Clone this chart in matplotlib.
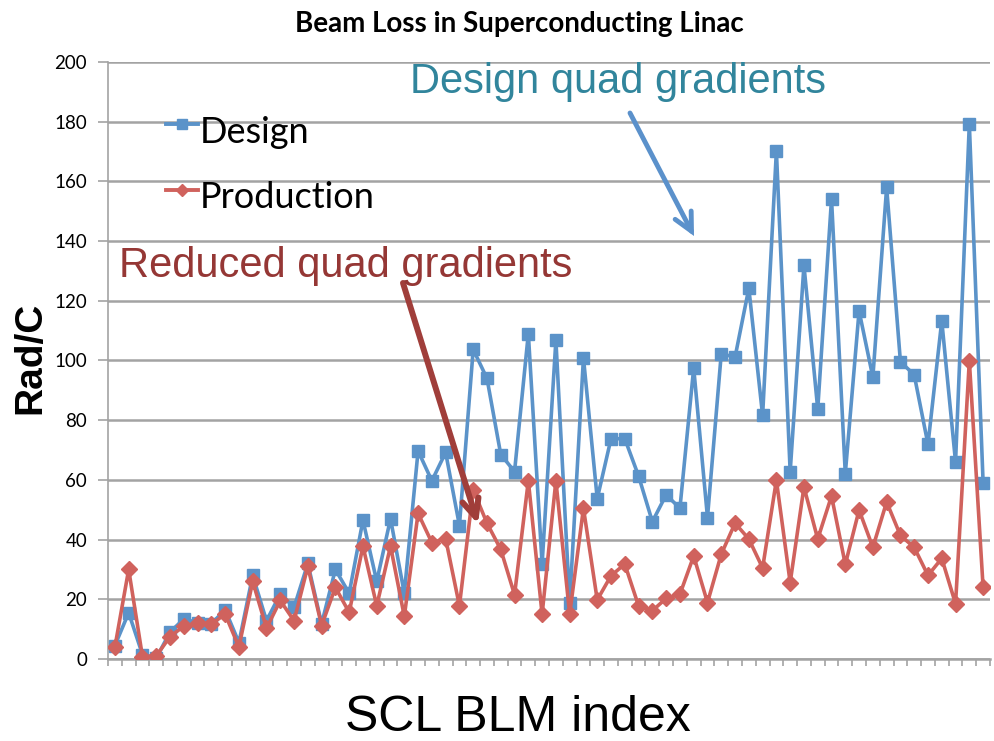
import matplotlib
matplotlib.use("Agg")
import matplotlib.pyplot as plt
from matplotlib.lines import Line2D
import numpy as np

design = [4.5, 15.5, 1.5, 0.3, 9, 13.4, 12.2, 11.8, 16.5, 5.5,
          28, 12.8, 21.8, 17.3, 32, 11.8, 30, 22, 46.5, 26,
          47, 22, 69.7, 59.7, 69.2, 44.7, 103.7, 94, 68.5, 62.8,
          109, 31.8, 106.8, 18.9, 100.9, 53.7, 73.8, 73.8, 61.3, 46,
          55, 50.5, 97.5, 47.4, 102.3, 101.1, 124.2, 81.6, 170.2, 62.7,
          131.9, 83.7, 154.1, 62.1, 116.6, 94.4, 158, 99.6, 95.2, 71.9,
          113.3, 66, 179.3, 59]
production = [4, 30, 0.8, 1, 7.5, 11, 12, 11.7, 15, 4,
              26, 10.3, 19.6, 12.8, 31, 11.2, 24, 15.6, 37.8, 17.8,
              37.8, 14.3, 48.8, 39, 40.3, 17.8, 56.7, 45.5, 36.7, 21.5,
              59.7, 15, 59.7, 15, 50.5, 19.8, 27.9, 31.8, 17.8, 16.2,
              20.3, 21.7, 34.5, 18.9, 35.1, 45.5, 40.2, 30.5, 59.9, 25.6,
              57.6, 40.2, 54.6, 31.7, 49.9, 37.4, 52.6, 41.4, 37.4, 28,
              33.7, 18.5, 99.9, 24]
series_names = ["Design", "Production"]
yticks = [0, 20, 40, 60, 80, 100, 120, 140, 160, 180, 200]

blue = "#5b93c9"
red = "#d0625d"
grid = "#a3a3a3"
W, H = 994, 741

fig = plt.figure(figsize=(W/100, H/100), dpi=100)
ax = fig.add_axes([108/W, 1-659/H, 882/W, 597/H])

x = np.arange(len(design))
ax.plot(x, design, color=blue, lw=2.6, marker="s", ms=9.2, mec=blue, mfc=blue,
        label=series_names[0], zorder=3)
ax.plot(x, production, color=red, lw=2.6, marker="D", ms=8, mec=red, mfc=red,
        label=series_names[1], zorder=4)

ax.set_xlim(-0.5, len(design) - 0.5)
ax.set_ylim(0, 200)
ax.set_yticks(yticks)
ax.set_yticklabels([str(v) for v in yticks], fontsize=13.5, family=["Lato", "DejaVu Sans"])
ax.set_xticks(np.arange(-0.5, len(design), 1))
ax.set_xticklabels([])
ax.tick_params(axis="x", direction="out", length=5, width=1.2, color=grid)
ax.tick_params(axis="y", direction="out", length=7, width=1.2, color=grid, pad=8)
ax.grid(axis="y", color=grid, lw=1.8, zorder=0)
ax.set_axisbelow(True)
for s in ["top", "right"]:
    ax.spines[s].set_visible(False)
ax.spines["left"].set_color(grid)
ax.spines["left"].set_linewidth(1.2)
ax.spines["bottom"].set_color(grid)
ax.spines["bottom"].set_linewidth(1.8)

def fpx(px, py):
    return (px / W, 1 - py / H)

fig.text(*fpx(519.5, 32), "Beam Loss in Superconducting Linac", ha="center", va="baseline",
         fontsize=20, fontweight="bold", family=["Lato", "DejaVu Sans"])
fig.text(*fpx(30, 358), "Rad/C", rotation=90, ha="center", va="center",
         fontsize=28, fontweight="bold", family=["Liberation Sans", "DejaVu Sans"])
fig.text(*fpx(518, 718), "SCL BLM index", ha="center", va="center",
         fontsize=36, family=["Liberation Sans", "DejaVu Sans"])

# legend drawn inside the plot area
for (name, col, mk, ms, ly, by) in [(series_names[0], blue, "s", 7, 124, 143),
                                     (series_names[1], red, "D", 6.5, 190, 208)]:
    fig.add_artist(Line2D([166/W, 198/W], [1-ly/H, 1-ly/H], color=col, lw=2.8,
                          transform=fig.transFigure))
    fig.add_artist(Line2D([182/W], [1-ly/H], color=col, marker=mk, ms=ms, mfc=col, mec=col,
                          lw=0, transform=fig.transFigure))
    fig.text(*fpx(200, by), name, ha="left", va="baseline", fontsize=26,
             family=["Lato", "DejaVu Sans"])

fig.text(*fpx(617.5, 93), "Design quad gradients", ha="center", va="baseline",
         fontsize=30, color="#31859c", family=["Liberation Sans", "DejaVu Sans"])
fig.text(*fpx(346, 277), "Reduced quad gradients", ha="center", va="baseline",
         fontsize=30, color="#953735", family=["Liberation Sans", "DejaVu Sans"])

ax.annotate("", xy=fpx(694, 236), xytext=fpx(630, 113), xycoords="figure fraction",
            textcoords="figure fraction",
            arrowprops=dict(arrowstyle="->,head_length=1.3,head_width=0.65", color="#5b91cb",
                            lw=3.5, shrinkA=0, shrinkB=0, capstyle="round", joinstyle="miter"),
            zorder=5)
ax.annotate("", xy=fpx(478, 524), xytext=fpx(403, 283), xycoords="figure fraction",
            textcoords="figure fraction",
            arrowprops=dict(arrowstyle="->,head_length=1.3,head_width=0.6", color="#a03e3a",
                            lw=4.3, shrinkA=0, shrinkB=0), zorder=5)

fig.savefig("out.png", dpi=100)
